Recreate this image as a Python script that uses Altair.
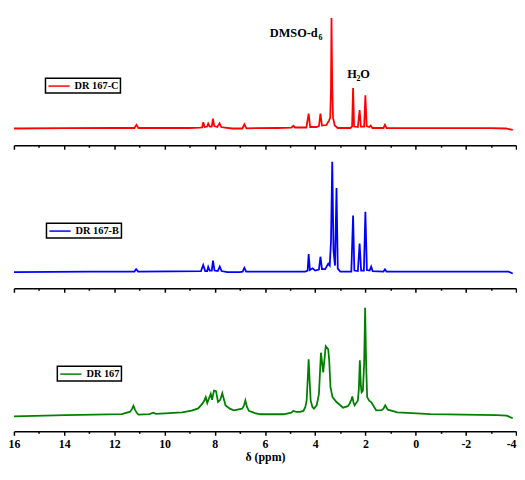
import altair as alt
import pandas as pd

# ---------------- data ----------------
names = ["DR 167-C", "DR 167-B", "DR 167"]
colors = ["#ff0000", "#0000ff", "#008000"]
tick_values = list(range(16, -5, -1))

red_ppm = [16.0, 14.0, 12.0, 11.2, 11.12, 11.04, 9.0, 8.6, 8.50, 8.46, 8.40, 8.30, 8.26, 8.20,
           8.12, 8.07, 8.02, 7.90, 7.81, 7.74, 7.6, 7.3, 6.9, 6.82, 6.74, 5.5, 4.95, 4.87, 4.80,
           4.35, 4.26, 4.20, 3.95, 3.85, 3.79, 3.73, 3.55, 3.45, 3.40, 3.37, 3.35, 3.32, 3.29,
           3.22, 3.10, 2.60, 2.53, 2.49, 2.45, 2.30, 2.23, 2.18, 2.05, 2.00, 1.95, 1.85, 1.79,
           1.72, 1.28, 1.22, 1.16, 0.0, -3.0, -3.6, -3.87]
red_int = [19, 19.3, 19.5, 19.5, 22.7, 19.5, 19.5, 19.8, 20, 25.3, 20.5, 21, 24, 21,
           21, 29, 21.5, 20.5, 24.3, 20.5, 20, 19, 19, 23.3, 19.2, 19.5, 19.8, 21.7, 20,
           20, 34, 20.5, 20.5, 21.5, 34, 22, 22.5, 27, 30, 60, 131, 60, 30,
           22, 19.5, 19.5, 21, 60, 21, 20.5, 37.7, 21, 21, 52.7, 21.5, 20.5, 22,
           19.5, 19.5, 22.7, 19.5, 19.3, 19.3, 19, 17.5]

blue_ppm = [16.0, 13.0, 11.2, 11.13, 11.05, 8.55, 8.46, 8.38, 8.30, 8.26, 8.20, 8.12, 8.07,
            8.01, 7.88, 7.80, 7.73, 7.5, 7.0, 6.89, 6.82, 6.75, 4.40, 4.30, 4.26, 4.21, 4.10,
            4.00, 3.85, 3.79, 3.73, 3.60, 3.48, 3.42, 3.37, 3.32, 3.27, 3.21, 3.15, 3.10, 3.00,
            2.56, 2.49, 2.44, 2.30, 2.23, 2.17, 2.06, 2.00, 1.94, 1.83, 1.77, 1.71, 1.28, 1.22,
            1.16, 0.0, -3.7, -3.87]
blue_int = [18.5, 19, 19, 21.3, 19, 19.3, 25.7, 19.5, 19.5, 23.7, 20, 20, 30,
            20, 19.5, 24, 19.5, 18.5, 18.5, 18.8, 22.7, 19, 19, 20, 36.7, 20.5, 22.3,
            20, 21, 34, 21.5, 21.5, 27, 25, 50, 130.3, 40, 25, 103.7, 22, 19,
            19, 75.7, 20, 19.5, 47.3, 20, 20, 79.7, 20.5, 20, 24, 19.5, 19, 21.3,
            19, 18.8, 18.8, 17.0]

green_ppm = [16.0, 13.95, 11.70, 11.37, 11.30, 11.24, 11.18, 11.10, 11.04, 10.60, 10.45, 10.35,
             9.98, 9.3, 8.92, 8.66, 8.49, 8.42, 8.36, 8.30, 8.16, 8.11, 8.03, 7.95, 7.87, 7.78,
             7.70, 7.62, 7.57, 7.40, 7.24, 6.91, 6.84, 6.78, 6.72, 6.64, 6.40, 6.19, 5.26, 4.95,
             4.87, 4.75, 4.60, 4.47, 4.39, 4.34, 4.30, 4.26, 4.22, 4.18, 4.11, 4.05, 3.94, 3.85,
             3.77, 3.68, 3.58, 3.48, 3.44, 3.39, 3.31, 3.15, 2.89, 2.70, 2.63, 2.56, 2.52, 2.47,
             2.43, 2.30, 2.26, 2.22, 2.18, 2.15, 2.10, 2.05, 2.01, 1.97, 1.93, 1.85, 1.77, 1.57,
             1.35, 1.28, 1.21, 1.11, 0.86, 0.73, 0.33, -0.59, -3.24, -3.63, -3.87]
green_int = [17.2, 18.5, 19.5, 21.9, 24.5, 27.9, 24, 20.5, 18.9, 19.5, 20.8, 19.8,
             20.2, 21.3, 22.9, 25.2, 30, 33, 36.7, 30.7, 40, 34, 43.3, 42.7, 31.7, 34,
             40.7, 33, 28.3, 25, 23.3, 25, 28, 33.3, 27, 22.7, 20.5, 19.3, 19.3, 21,
             22.7, 21.7, 21.7, 22.7, 26.7, 33.3, 53, 75, 53, 33.3, 26.7, 25, 28.3, 40,
             81.7, 61.7, 88.3, 85, 73.3, 46.7, 36.7, 31.7, 26, 27.5, 30, 34, 37.3, 31,
             28.3, 33.3, 45, 74, 48, 41.7, 43.3, 70, 127.3, 70, 36.7, 33, 31.7, 23.3,
             23.5, 25, 28.3, 24, 22.2, 21.2, 20.6, 19.5, 18.5, 17.9, 15.2]

annot_text = ["DMSO-d", "6", "H", "2", "O"]
annot_ppm = [5.81, 3.87, 2.72, 2.35, 2.20]
annot_int = [112, 109, 70, 67, 70]
annot_size = [12.5, 8, 12.5, 8, 12.5]

# ---------------- styling ----------------
FONT = "Liberation Serif"
panel_top = [138, 142, 142]          # intensity at the top edge of each panel
panel_bottom = 2                      # intensity at the bottom edge (axis line)
legend_pos = [(32, 68), (33, 74), (44, 74)]
PLOT_W = 509

x_scale = alt.Scale(domain=[16, -4], nice=False, zero=False)


def make_axis(show_labels):
    kw = dict(
        values=tick_values,
        tickSize={"condition": {"test": "datum.value % 2 === 0", "value": 4}, "value": 2},
        tickColor="black",
        tickWidth=1.5,
        domainColor="black",
        domainWidth=1.5,
        grid=False,
        labels=show_labels,
    )
    if show_labels:
        kw.update(
            labelExpr="datum.value % 2 === 0 ? replace(datum.label, '\u2212', '-') : ''",
            labelAlign={"condition": {"test": "datum.value === -4", "value": "right"}, "value": "center"},
            labelFont=FONT,
            labelFontSize=12,
            labelFontWeight="bold",
            labelColor="black",
            labelPadding=3,
            title="δ (ppm)",
            titleFont=FONT,
            titleFontSize=12,
            titleFontWeight="bold",
            titleColor="black",
            titlePadding=3,
        )
    else:
        kw.update(title=None)
    return alt.Axis(**kw)


def y_enc(i):
    return alt.Y("intensity:Q",
                 scale=alt.Scale(domain=[panel_bottom, panel_top[i]], nice=False, zero=False),
                 axis=None)


def panel(i, ppm, inten):
    df = pd.DataFrame({"ppm": ppm, "intensity": inten, "sample": names[i]})
    lx, ly = legend_pos[i]
    line = alt.Chart(df).mark_line(strokeWidth=1.8, clip=True).encode(
        x=alt.X("ppm:Q", scale=x_scale, axis=make_axis(i == 2)),
        y=y_enc(i),
        color=alt.Color(
            "sample:N",
            scale=alt.Scale(domain=[names[i]], range=[colors[i]]),
            legend=alt.Legend(
                orient="none", legendX=lx, legendY=ly, title=None,
                symbolType="M-0.91,0H3", symbolSize=121, symbolStrokeWidth=1.5,
                labelFont=FONT, labelFontSize=10.5, labelFontWeight="bold",
                labelColor="black", labelOffset=15, labelLimit=0,
                strokeColor="black", fillColor="white", padding=1.5,
            ),
        ),
    )
    return line


p1 = panel(0, red_ppm, red_int)
adf = pd.DataFrame({"ppm": annot_ppm, "intensity": annot_int, "text": annot_text, "size": annot_size})
annot = alt.Chart(adf).mark_text(
    font=FONT, fontWeight="bold", align="left", baseline="alphabetic", color="black"
).encode(
    x=alt.X("ppm:Q", scale=x_scale, axis=make_axis(False)),
    y=y_enc(0),
    text="text:N",
    size=alt.Size("size:Q", scale=None, legend=None),
)
heights = [t - panel_bottom for t in panel_top]
top = alt.layer(p1, annot).properties(width=PLOT_W, height=heights[0])
mid = panel(1, blue_ppm, blue_int).properties(width=PLOT_W, height=heights[1])
bot = panel(2, green_ppm, green_int).properties(width=PLOT_W, height=heights[2])

chart = alt.vconcat(top, mid, bot, spacing=0).resolve_scale(color="independent").properties(
    padding=0
).configure_view(stroke=None).configure_legend(strokeWidth=1.5)

chart.save("out.html", embed_options={"renderer": "svg", "actions": False})
